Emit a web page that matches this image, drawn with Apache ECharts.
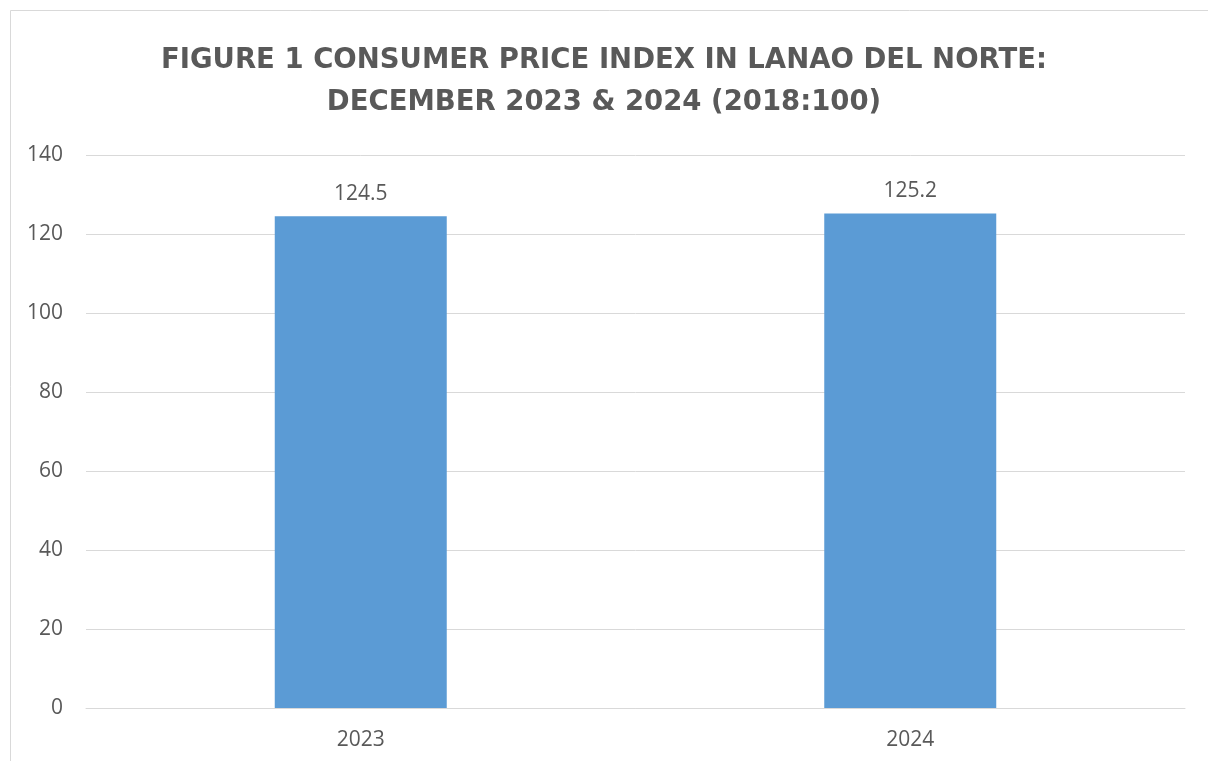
<!DOCTYPE html>
<html>
<head>
<meta charset="utf-8">
<script src="https://cdn.jsdelivr.net/npm/echarts@6/dist/echarts.min.js"></script>
<style>
html,body{margin:0;padding:0;background:#fff;}
#c{width:1208px;height:761px;}
</style>
</head>
<body>
<div id="c"></div>
<script>
const categories = ['2023', '2024'];
const cpiValues = [124.5, 125.2];
const titleLines = ['FIGURE 1 CONSUMER PRICE INDEX IN LANAO DEL NORTE:', 'DECEMBER 2023 & 2024 (2018:100)'];

const chart = echarts.init(document.getElementById('c'));
const txt = '#595959';
chart.setOption({
  backgroundColor: '#ffffff',
  animation: false,
  title: {
    text: titleLines.join('\n'),
    left: 'center',
    top: 35,
    textStyle: {
      fontFamily: 'DejaVu Sans',
      fontWeight: 'bold',
      fontSize: 27.5,
      color: txt,
      lineHeight: 42,
      align: 'center'
    }
  },
  graphic: [{
    type: 'rect',
    shape: {x: 10.5, y: 10.5, width: 1400, height: 900},
    style: {fill: 'none', stroke: '#d9d9d9', lineWidth: 1},
    silent: true
  }],
  grid: {left: 86, right: 23, top: 155, bottom: 53, containLabel: false},
  xAxis: {
    type: 'category',
    data: categories,
    axisLine: {show: true, lineStyle: {color: '#d9d9d9', width: 1}},
    axisTick: {show: false},
    axisLabel: {color: txt, fontSize: 21, fontFamily: 'Open Sans', margin: 22}
  },
  yAxis: {
    type: 'value',
    min: 0, max: 140, interval: 20,
    axisLine: {show: false},
    axisTick: {show: false},
    splitLine: {lineStyle: {color: '#d9d9d9', width: 1}},
    axisLabel: {color: txt, fontSize: 21, fontFamily: 'Open Sans', margin: 23}
  },
  series: [{
    type: 'bar',
    data: cpiValues,
    barWidth: '31.3%',
    itemStyle: {color: '#5b9bd5'},
    label: {
      show: true, position: 'top', distance: 12,
      color: txt, fontSize: 21, fontFamily: 'Open Sans',
      formatter: p => p.value.toFixed(1)
    }
  }]
});
</script>
</body>
</html>
